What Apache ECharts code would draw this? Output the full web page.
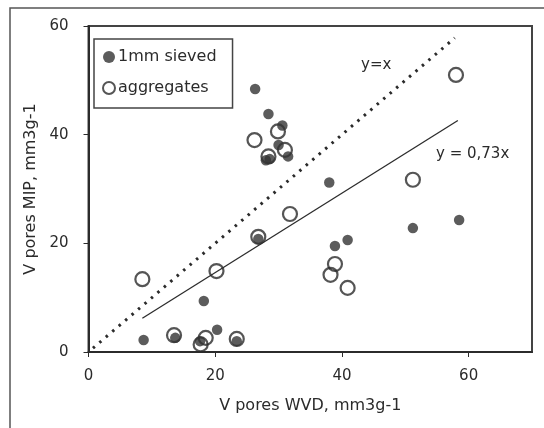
<!DOCTYPE html>
<html>
<head>
<meta charset="utf-8">
<script src="https://cdn.jsdelivr.net/npm/echarts@6/dist/echarts.min.js"></script>
<style>
  html, body { margin: 0; padding: 0; background: #fff; }
  #chart { width: 544px; height: 428px; }
</style>
</head>
<body>
<div id="chart"></div>
<script>
// values (WVD on x, MIP on y, mm3/g)
const sievedWVD = [26.3, 28.4, 30.6, 30.0, 28.0, 28.6, 31.5, 26.8, 18.2, 38.0, 38.9, 40.9, 51.2, 58.5, 8.7, 13.7, 20.3, 17.6, 23.4]
const sievedMIP = [48.4, 43.8, 41.7, 38.1, 35.3, 35.5, 36.0, 20.8, 9.4, 31.2, 19.5, 20.6, 22.8, 24.3, 2.2, 2.6, 4.1, 2.0, 2.0]

const aggrWVD = [29.9, 26.2, 31.0, 28.4, 26.8, 31.8, 20.2, 8.5, 38.9, 38.2, 40.9, 51.2, 58.0, 13.5, 18.5, 17.7, 23.4]
const aggrMIP = [40.6, 39.0, 37.2, 36.0, 21.2, 25.4, 14.9, 13.4, 16.2, 14.2, 11.8, 31.7, 51.0, 3.1, 2.6, 1.4, 2.4]

// end points of the two reference lines as drawn
const identityLine = [[0.7, 0.7], [57.8, 57.8]]
const fitLine = [[8.5, 6.2], [58.3, 42.6]]

const xTicks = [0, 20, 40, 60]
const yTicks = [0, 20, 40, 60]

const ink = '#2b2b2b'
const font = 'DejaVu Sans'

function pairs(xs, ys) {
  return xs.map((x, i) => [x, ys[i]])
}

const chart = echarts.init(document.getElementById('chart'), null, { renderer: 'canvas' })

chart.setOption({
  backgroundColor: '#fff',
  animation: false,
  grid: {
    left: 88.5,
    top: 26,
    right: 12,
    bottom: 76,
    show: true,
    borderColor: '#444',
    borderWidth: 2
  },
  legend: {
    orient: 'vertical',
    left: 94,
    top: 39,
    padding: [10, 16, 12, 8],
    itemGap: 15,
    itemWidth: 12,
    itemHeight: 12,
    borderColor: '#444',
    borderWidth: 1.5,
    backgroundColor: '#fff',
    data: ['1mm sieved', 'aggregates'],
    textStyle: { fontFamily: font, fontSize: 16, color: ink, padding: [0, 0, 0, -2] }
  },
  xAxis: {
    type: 'value',
    min: 0,
    max: 70,
    interval: 20,
    name: 'V pores WVD, mm3g-1',
    nameLocation: 'middle',
    nameGap: 46,
    nameTextStyle: { fontFamily: font, fontSize: 16, color: ink },
    splitLine: { show: false },
    axisLine: { lineStyle: { color: ink, width: 2 } },
    axisTick: { show: true, length: 5, lineStyle: { color: ink }, customValues: xTicks },
    axisLabel: { fontFamily: font, fontSize: 15, color: ink, margin: 17, customValues: xTicks }
  },
  yAxis: {
    type: 'value',
    min: 0,
    max: 60,
    interval: 20,
    name: 'V pores MIP, mm3g-1',
    nameLocation: 'middle',
    nameGap: 50,
    nameTextStyle: { fontFamily: font, fontSize: 16, color: ink },
    splitLine: { show: false },
    axisLine: { lineStyle: { color: ink, width: 2 } },
    axisTick: { show: true, length: 5, lineStyle: { color: ink }, customValues: yTicks },
    axisLabel: { fontFamily: font, fontSize: 15, color: ink, margin: 20, customValues: yTicks }
  },
  series: [
    {
      name: 'y=x',
      type: 'line',
      data: identityLine,
      symbol: 'none',
      silent: true,
      z: 1,
      lineStyle: { color: ink, width: 3, type: [2.5, 6] }
    },
    {
      name: 'y = 0,73x',
      type: 'line',
      data: fitLine,
      symbol: 'none',
      silent: true,
      z: 1,
      lineStyle: { color: ink, width: 1.3 }
    },
    {
      name: 'aggregates',
      type: 'scatter',
      data: pairs(aggrWVD, aggrMIP),
      symbol: 'circle',
      symbolSize: 14,
      z: 2,
      itemStyle: { color: 'rgba(255,255,255,0)', borderColor: ink, borderWidth: 2.2 }
    },
    {
      name: '1mm sieved',
      type: 'scatter',
      data: pairs(sievedWVD, sievedMIP),
      symbol: 'circle',
      symbolSize: 10.5,
      z: 3,
      itemStyle: { color: '#333' }
    }
  ],
  graphic: [
    {
      type: 'rect',
      shape: { x: 10, y: 8, width: 600, height: 500 },
      style: { fill: 'none', stroke: '#555', lineWidth: 1.5 },
      z: -10
    },
    {
      type: 'text',
      left: 361,
      top: 58,
      style: { text: 'y=x', fontFamily: font, fontSize: 15, fill: ink }
    },
    {
      type: 'text',
      left: 436,
      top: 147,
      style: { text: 'y = 0,73x', fontFamily: font, fontSize: 15, fill: ink }
    }
  ]
})
</script>
</body>
</html>
